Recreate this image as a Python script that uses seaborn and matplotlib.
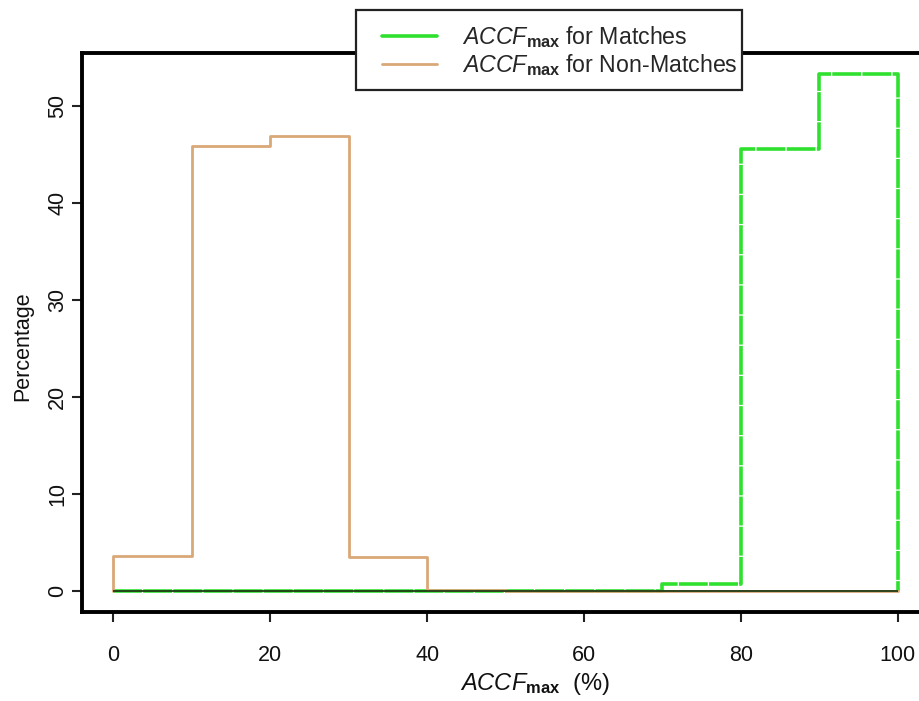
import numpy as np
import pandas as pd
import matplotlib
matplotlib.use("Agg")
import matplotlib.pyplot as plt
from matplotlib.patches import Rectangle
import seaborn as sns

# Histogram bin left edges (ACCF_max, %) and percentages per bin
bin_edges = [0, 10, 20, 30, 40, 50, 60, 70, 80, 90]
bin_width = 10
matches_pct = [0, 0, 0, 0, 0, 0, 0, 0.8, 45.6, 53.3]
non_matches_pct = [3.6, 45.9, 46.9, 3.5, 0.15, 0, 0, 0, 0, 0]

x_ticks = [0, 20, 40, 60, 80, 100]
y_ticks = [0, 10, 20, 30, 40, 50]

green = "#2fe02f"
tan = "#d9a877"
FS = 15.5


def step_frame(values, label):
    # closed outline: rise from zero at the first edge, fall to zero at the last
    xs = [bin_edges[0]] + bin_edges + [bin_edges[-1] + bin_width]
    ys = [0] + list(values) + [0]
    return pd.DataFrame({"x": xs, "y": ys, "series": label})


sns.set_theme(style="white")
plt.rcParams["font.family"] = ["Liberation Sans", "DejaVu Sans"]
plt.rcParams["mathtext.fontset"] = "custom"
plt.rcParams["mathtext.it"] = "Liberation Sans:italic"
plt.rcParams["mathtext.rm"] = "Liberation Sans"
plt.rcParams["mathtext.bf"] = "Liberation Sans:bold"

W, H = 919, 701
fig = plt.figure(figsize=(W / 100, H / 100), dpi=100)
ax = fig.add_axes([82 / W, (H - 612) / H, 847 / W, (612 - 53) / H])

lab_m = r"$\mathit{ACCF}_{\mathbf{max}}$ for Matches"
lab_n = r"$\mathit{ACCF}_{\mathbf{max}}$ for Non-Matches"

df_m = step_frame(matches_pct, lab_m)
df_n = step_frame(non_matches_pct, lab_n)

sns.lineplot(data=df_m, x="x", y="y", estimator=None, sort=False,
             drawstyle="steps-post", color=green, lw=2.6,
             linestyle=(0, (8, 0.35)), ax=ax, legend=False)
sns.lineplot(data=df_n, x="x", y="y", estimator=None, sort=False,
             drawstyle="steps-post", color=tan, lw=2.0, ax=ax, legend=False)
# baseline along the histogram range
ax.hlines(0, bin_edges[0], bin_edges[-1] + bin_width, color="#1f3a14", lw=1.3, zorder=3)

ax.set_xlim(-4, 104)
ax.set_ylim(-2.132, 55.45)
ax.set_xticks(x_ticks)
ax.set_yticks(y_ticks)
ax.set_xticklabels([str(v) for v in x_ticks], fontsize=FS)
ax.set_yticklabels([str(v) for v in y_ticks], fontsize=FS, rotation=90, va="center")
ax.tick_params(axis="both", which="both", direction="out", length=7.5, width=1.5,
               color="#222222", labelcolor="#111111", bottom=True, left=True)
ax.tick_params(axis="x", pad=16)
ax.tick_params(axis="y", pad=2.5)

for side in ["top", "left", "bottom"]:
    ax.spines[side].set_visible(True)
    ax.spines[side].set_linewidth(2.8)
    ax.spines[side].set_color("black")
ax.spines["right"].set_visible(False)

ax.set_xlabel(r"$\mathit{ACCF}_{\mathbf{max}}$  (%)", fontsize=17, color="#111111")
ax.xaxis.set_label_coords((535 - 82) / 847, -(671 - 612) / (612 - 53))
ax.set_ylabel("Percentage", fontsize=FS, color="#111111")
ax.yaxis.set_label_coords(-(82 - 33) / 847, (612 - 346) / (612 - 53))

# legend frame straddling the top of the plot box
fig.patches.append(Rectangle((356 / W, 1 - 90 / H), (742 - 356) / W, 80 / H,
                             transform=fig.transFigure, facecolor="white",
                             edgecolor="#222222", lw=1.6, zorder=5))

handles = [plt.Line2D([], [], color=green, lw=2.6),
           plt.Line2D([], [], color=tan, lw=2.0)]
leg = fig.legend(handles, [lab_m, lab_n], loc="upper left",
                 bbox_to_anchor=(382 / W, 1 - 24 / H), fontsize=16.7,
                 frameon=False, handlelength=2.35, handletextpad=1.12,
                 borderpad=0, labelspacing=0.1, borderaxespad=0)
leg.set_zorder(10)

fig.savefig("out.png", dpi=100, facecolor="white")
